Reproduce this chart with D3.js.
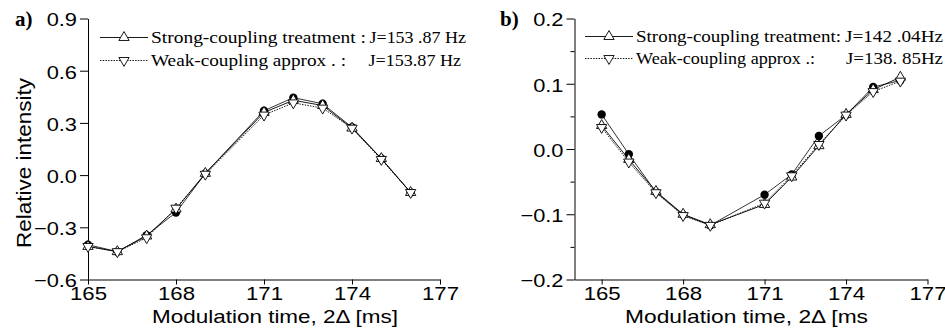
<!DOCTYPE html>
<html>
<head>
<meta charset="utf-8">
<script src="https://cdn.jsdelivr.net/npm/d3@7"></script>
<style>
  html, body { margin: 0; padding: 0; background: #fff; }
  svg { display: block; }
  .tick text, .lab { font-family: "Liberation Sans", Arial, sans-serif; fill: #000; }
  .leg { font-family: "Liberation Serif", "Times New Roman", serif; fill: #000; }
</style>
</head>
<body>
<svg id="chart" width="945" height="328"></svg>
<script>
// modulation times (ms) that were measured -- no point at 170
const times = [165, 166, 167, 168, 169, 171, 172, 173, 174, 175, 176];
const xTicks = [165, 168, 171, 174, 177];

// panel a
const expA    = [-0.40, -0.44, -0.345, -0.215, 0.010, 0.370, 0.445, 0.410, 0.275, 0.095, -0.100];
const strongA = [-0.41, -0.44, -0.350, -0.195, 0.010, 0.360, 0.430, 0.400, 0.270, 0.095, -0.100];
const weakA   = [-0.41, -0.44, -0.360, -0.190, 0.005, 0.345, 0.415, 0.385, 0.270, 0.090, -0.100];
const yTicksA = [-0.6, -0.3, 0.0, 0.3, 0.6, 0.9];

// panel b
const expB    = [0.053, -0.008, -0.066, -0.101, -0.117, -0.070, -0.039, 0.020, 0.052, 0.095, 0.105];
const strongB = [0.036, -0.016, -0.065, -0.100, -0.116, -0.085, -0.043, 0.005, 0.053, 0.091, 0.110];
const weakB   = [0.033, -0.020, -0.067, -0.102, -0.117, -0.083, -0.041, 0.007, 0.052, 0.088, 0.104];
const yTicksB = [-0.2, -0.1, 0.0, 0.1, 0.2];
const yMinorB = [-0.15, -0.05, 0.05, 0.15];

const svg = d3.select('#chart');

// squeeze / stretch text to a measured width
function fitTo(sel, w) {
  sel.attr('textLength', w).attr('lengthAdjust', 'spacingAndGlyphs');
}
function stretch(sel, k) {
  sel.each(function () {
    const l = this.getComputedTextLength();
    d3.select(this).attr('textLength', l * k).attr('lengthAdjust', 'spacingAndGlyphs');
  });
}

const triUp = d3.symbol(d3.symbolTriangle, 46)();

function drawPanel(p) {
  const x = d3.scaleLinear().domain(p.xDomain).range(p.xRange);
  const y = d3.scaleLinear().domain(p.yDomain).range([279.5, 18.5]);
  const g = svg.append('g');

  // axes
  const xa = g.append('g').attr('transform', 'translate(0,279.5)')
    .call(d3.axisBottom(x).tickValues(xTicks).tickSize(5).tickSizeOuter(0).tickFormat(d3.format('d')));
  xa.selectAll('.tick text').attr('y', 20).attr('dy', 0).style('font-size', '18.5px');
  stretch(xa.selectAll('.tick text'), 1.2);

  const ya = g.append('g').attr('transform', `translate(${p.xRange[0]},0)`)
    .call(d3.axisLeft(y).tickValues(p.yTicks).tickSize(8).tickPadding(3).tickSizeOuter(0).tickFormat(d3.format('.1f')));
  ya.selectAll('.tick text').attr('dy', '0.4em').style('font-size', '18.5px');
  stretch(ya.selectAll('.tick text'), 1.18);
  if (p.yMinor) {
    g.append('g').attr('transform', `translate(${p.xRange[0]},0)`)
      .call(d3.axisLeft(y).tickValues(p.yMinor).tickSize(4).tickSizeOuter(0).tickFormat(''))
      .select('.domain').remove();
  }
  g.selectAll('.domain, .tick line').attr('stroke', '#000').attr('stroke-width', 1);

  // axis titles
  g.append('text').attr('class', 'lab').attr('x', p.titleX).attr('y', 323)
    .style('font-size', '19px').text(p.xTitle).call(fitTo, p.titleW);
  if (p.yTitle) {
    g.append('text').attr('class', 'lab')
      .attr('transform', 'translate(31,248) rotate(-90)')
      .style('font-size', '21px').text(p.yTitle).call(fitTo, 170);
  }
  g.append('text').attr('x', p.tagX).attr('y', 26)
    .style('font-family', '"Liberation Serif", "Times New Roman", serif')
    .style('font-weight', 'bold').style('font-size', '21px').text(p.tag);

  const pts = v => times.map((t, i) => [t, v[i]]);
  const line = d3.line().x(d => x(d[0])).y(d => y(d[1]));

  // measured points
  g.append('path').datum(pts(p.exp)).attr('d', line)
    .attr('fill', 'none').attr('stroke', '#000').attr('stroke-width', 0.8);
  g.selectAll('.dot').data(pts(p.exp)).join('circle').attr('class', 'dot')
    .attr('cx', d => x(d[0])).attr('cy', d => y(d[1])).attr('r', 4.2).attr('fill', '#000');

  // strong-coupling fit
  g.append('path').datum(pts(p.strong)).attr('d', line)
    .attr('fill', 'none').attr('stroke', '#000').attr('stroke-width', 0.9);
  // weak-coupling fit
  g.append('path').datum(pts(p.weak)).attr('d', line)
    .attr('fill', 'none').attr('stroke', '#000').attr('stroke-width', 0.9).attr('stroke-dasharray', '1.5,1.2');

  g.selectAll('.up').data(pts(p.strong)).join('path').attr('class', 'up')
    .attr('d', triUp).attr('transform', d => `translate(${x(d[0])},${y(d[1])})`)
    .attr('fill', '#fff').attr('stroke', '#000').attr('stroke-width', 0.9);
  g.selectAll('.down').data(pts(p.weak)).join('path').attr('class', 'down')
    .attr('d', triUp).attr('transform', d => `translate(${x(d[0])},${y(d[1])}) rotate(180)`)
    .attr('fill', '#fff').attr('stroke', '#000').attr('stroke-width', 0.9);

  // legend
  p.legend.forEach((r, i) => {
    const lg = g.append('g');
    lg.append('line').attr('x1', p.legX[0]).attr('x2', p.legX[1]).attr('y1', r.y).attr('y2', r.y)
      .attr('stroke', '#000').attr('stroke-width', 0.9)
      .attr('stroke-dasharray', i ? '1.5,1.2' : null);
    lg.append('path').attr('d', triUp)
      .attr('transform', `translate(${(p.legX[0] + p.legX[1]) / 2},${r.y}) rotate(${i ? 180 : 0})`)
      .attr('fill', '#fff').attr('stroke', '#000').attr('stroke-width', 0.9);
    lg.append('text').attr('class', 'leg').attr('x', p.legX[1] + 3).attr('y', r.y + 5.5)
      .style('font-size', '16.5px').text(r.label).call(fitTo, r.lw);
    lg.append('text').attr('class', 'leg').attr('x', r.jx).attr('y', r.y + 5.5)
      .style('font-size', '16.5px').text(r.j).call(fitTo, r.jw);
  });
}

drawPanel({
  tag: 'a)', tagX: 15,
  xDomain: [165, 177], xRange: [88, 440],
  yDomain: [-0.6, 0.9], yTicks: yTicksA,
  exp: expA, strong: strongA, weak: weakA,
  xTitle: 'Modulation time, 2\u0394 [ms]', titleX: 152, titleW: 246,
  yTitle: 'Relative intensity',
  legX: [100, 148],
  legend: [
    { y: 37.5, label: 'Strong-coupling treatment :', lw: 215, j: 'J=153 .87 Hz', jx: 369.5, jw: 96.5 },
    { y: 60.5, label: 'Weak-coupling approx . :', lw: 195, j: 'J=153.87 Hz', jx: 368.5, jw: 92.5 }
  ]
});

drawPanel({
  tag: 'b)', tagX: 500,
  xDomain: [164, 177], xRange: [574.5, 927.5],
  yDomain: [-0.2, 0.2], yTicks: yTicksB, yMinor: yMinorB,
  exp: expB, strong: strongB, weak: weakB,
  xTitle: 'Modulation time, 2\u0394 [ms', titleX: 625, titleW: 243,
  legX: [585, 633],
  legend: [
    { y: 36.5, label: 'Strong-coupling treatment:', lw: 205, j: 'J=142 .04Hz', jx: 845, jw: 98 },
    { y: 58.5, label: 'Weak-coupling approx .:', lw: 179, j: 'J=138. 85Hz', jx: 846, jw: 97 }
  ]
});
</script>
</body>
</html>
